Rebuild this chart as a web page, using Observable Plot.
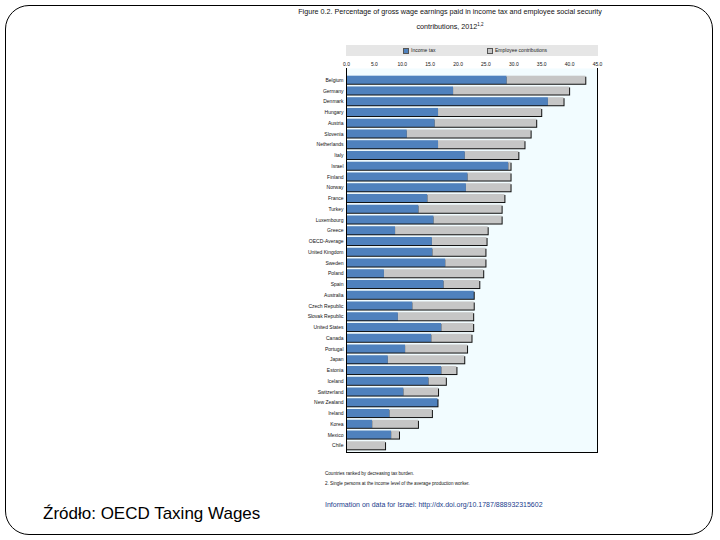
<!DOCTYPE html>
<html>
<head>
<meta charset="utf-8">
<script src="https://cdn.jsdelivr.net/npm/d3@7"></script>
<script src="https://cdn.jsdelivr.net/npm/@observablehq/plot@0.6"></script>
<style>
  html, body { margin: 0; padding: 0; background: #fff; }
  #slide { position: relative; width: 720px; height: 540px; overflow: hidden; font-family: "Liberation Sans", Arial, sans-serif; }
  #border { position: absolute; left: 5px; top: 5px; width: 708px; height: 530px; box-sizing: border-box; border: 1.5px solid #000; border-radius: 24px; }
  #title { position: absolute; left: 285px; width: 330px; top: 5px; text-align: center; font-size: 7.2px; line-height: 13px; color: #111; }
  #title sup { font-size: 4.5px; }
  #legend { position: absolute; left: 346px; top: 45px; width: 252px; height: 11px; background: #e6e6e6; font-size: 5px; line-height: 11px; color: #222; }
  #legend span { position: absolute; top: 0; white-space: nowrap; }
  .sw { display: inline-block; width: 4px; height: 4px; margin-right: 2px; vertical-align: middle; }
  #chart { position: absolute; left: 290px; top: 55px; }
  .note { position: absolute; left: 325px; font-size: 4.6px; color: #111; white-space: nowrap; }
  #info { position: absolute; left: 325px; top: 501px; font-size: 7px; color: #1a3c8c; white-space: nowrap; }
  #source { position: absolute; left: 43px; top: 504px; font-size: 17px; color: #000; white-space: nowrap; }
</style>
</head>
<body>
<div id="slide">
  <div id="border"></div>
  <div id="title">Figure 0.2. Percentage of gross wage earnings paid in income tax and employee social security<br>contributions, 2012<sup>1,2</sup></div>
  <div id="legend"></div>
  <div id="chart"></div>
  <div class="note" style="top:471px">Countries ranked by decreasing tax burden.</div>
  <div class="note" style="top:481px">2. Single persons at the income level of the average production worker.</div>
  <div id="info">Information on data for Israel: http://dx.doi.org/10.1787/888932315602</div>
  <div id="source">Źródło: OECD Taxing Wages</div>
</div>
<script>
const countries = ["Belgium","Germany","Denmark","Hungary","Austria","Slovenia","Netherlands","Italy","Israel","Finland","Norway","France","Turkey","Luxembourg","Greece","OECD-Average","United Kingdom","Sweden","Poland","Spain","Australia","Czech Republic","Slovak Republic","United States","Canada","Portugal","Japan","Estonia","Iceland","Switzerland","New Zealand","Ireland","Korea","Mexico","Chile"];
const incomeTax = [28.8,19.2,36.2,16.5,15.9,10.9,16.5,21.3,29.1,21.8,21.5,14.6,13.0,15.7,8.8,15.4,15.5,17.8,6.8,17.5,22.9,11.9,9.3,17.1,15.3,10.6,7.5,17.1,14.8,10.3,16.4,7.8,4.7,8.1,0.0];
const employeeContrib = [14.1,20.8,2.8,18.5,18.2,22.2,15.5,9.6,0.4,7.7,8.0,13.8,14.9,12.2,16.6,9.8,9.5,7.2,17.8,6.4,0.0,11.0,13.5,5.7,7.2,11.1,13.7,2.7,3.1,6.2,0.0,7.6,8.2,1.4,7.0];
const components = ["Income tax","Employee contributions"];
const componentColors = ["#4f81bd","#c6c6c6"];
const xTicks = [0,5,10,15,20,25,30,35,40,45];

const rows = countries.flatMap((c, i) => [
  {country: c, component: components[0], value: incomeTax[i]},
  {country: c, component: components[1], value: employeeContrib[i]}
]);
const totals = countries.map((c, i) => ({country: c, total: incomeTax[i] + employeeContrib[i]}));

// legend
const leg = document.getElementById("legend");
[[components[0], 57], [components[1], 141]].forEach(([name, left], i) => {
  const s = document.createElement("span");
  s.style.left = left + "px";
  s.innerHTML = `<i class="sw" style="background:${componentColors[i]};border:0.5px solid #555"></i>${name}`;
  leg.appendChild(s);
});

const chart = Plot.plot({
  width: 320,
  height: 400,
  marginLeft: 56,
  marginRight: 13,
  marginTop: 13,
  marginBottom: 3,
  style: {fontFamily: "'Liberation Sans', Arial, sans-serif", fontSize: "5px", background: "transparent", color: "#111"},
  x: {domain: [0, 45], ticks: xTicks, tickFormat: d3.format(".1f"), axis: "top", tickSize: 0, tickPadding: 3, label: null},
  y: {domain: countries, padding: 0.25, insetTop: 5, round: false, label: null, tickSize: 0, tickPadding: 3},
  color: {domain: components, range: componentColors},
  marks: [
    Plot.frame({fill: "#f2fcff", stroke: null}),
    Plot.barX(totals, {x: "total", y: "country", fill: "#111", dx: 1, dy: 1}),
    Plot.barX(rows, Plot.stackX({x: "value", y: "country", fill: "component"})),
    Plot.ruleX([0, 45], {stroke: "#000"}),
    Plot.frame({anchor: "bottom", stroke: "#000"})
  ]
});
document.getElementById("chart").appendChild(chart);
</script>
</body>
</html>
